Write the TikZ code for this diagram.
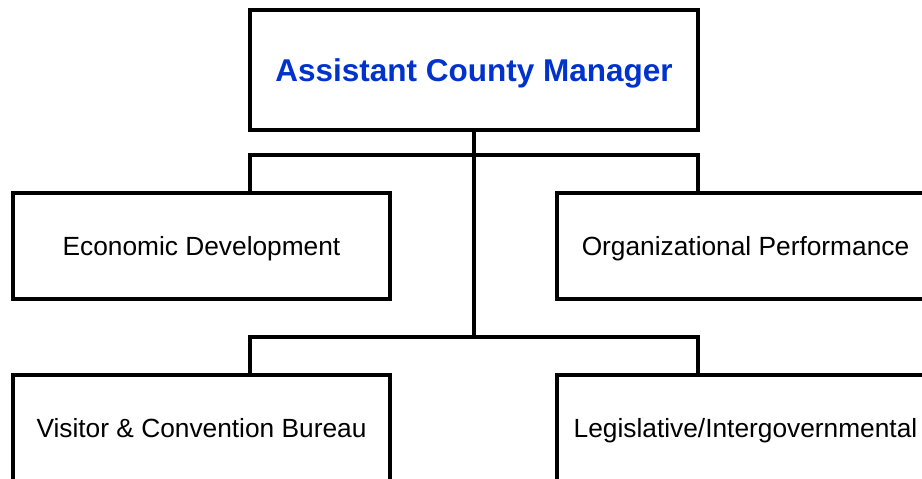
\documentclass[tikz,border=0pt]{standalone}
\usepackage{fontspec}
\setmainfont{Liberation Sans}
\usepackage{tikz}
\usetikzlibrary{calc}
\usetikzlibrary{positioning}

\definecolor{titleblue}{RGB}{0,51,204}

\tikzset{
	box/.style={draw, line width=4pt, inner sep=0pt, outer sep=0pt, align=center, text depth=0pt},
	boss/.style={box, minimum width=448pt, minimum height=120pt, text height=22.5pt, text=titleblue, font=\fontsize{31.5}{36}\selectfont\bfseries},
	unit/.style={box, minimum width=377pt, minimum height=106pt, text height=18.8pt, font=\fontsize{26.3}{30}\selectfont},
	link/.style={line width=4pt}
}

\begin{document}
\begin{tikzpicture}[x=1pt, y=-1pt]
	\useasboundingbox (0,0) rectangle (922,479);
	\clip (0,0) rectangle (922,479);
	
	\node[boss] (acm) at (474,70) {Assistant County Manager};
	
	\node[unit] (ed) at (201.5,246) {Economic Development};
	\node[unit] (op) at (745.5,246) {Organizational Performance};
	\node[unit] (vcb) at (201.5,428) {Visitor \& Convention Bureau};
	\node[unit] (li) at (745.5,428) {Legislative/Intergovernmental};
	
	\coordinate (hub) at ($(acm.south |- vcb.north) + (0,-38)$);
	\draw[link] (acm.south) -- (hub);
	
	\draw[link] (ed.north -| acm.west) -- ++(0,-38) -| (op.north -| acm.east);
	\draw[link] (vcb.north -| acm.west) -- ++(0,-38) -| (li.north -| acm.east);
\end{tikzpicture}
\end{document}
